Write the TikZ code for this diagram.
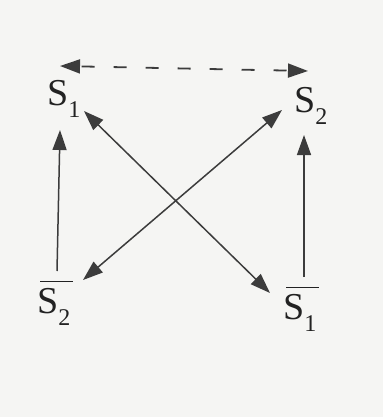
\documentclass[tikz,border=0pt]{standalone}
\usepackage{fontspec}
\setmainfont{Liberation Serif}
\usetikzlibrary{arrows.meta}
\definecolor{bg}{HTML}{F5F5F3}
\definecolor{ink}{HTML}{222222}
\definecolor{arr}{HTML}{3C3C3C}
\newcommand\mysub[1]{\raisebox{-12pt}{\fontsize{24}{24}\selectfont #1}}
\newcommand\mybar[1]{\vbox{\hrule height 1.3pt\kern 6pt\hbox{\kern-3pt#1\kern3pt}}}
\tikzset{
  lbl/.style={anchor=base west, inner sep=0pt, text=ink, font=\fontsize{38}{38}\selectfont},
  link/.style={draw=arr, line width=1.5pt, {Triangle[length=20pt,width=14pt]}-{Triangle[length=20pt,width=14pt]}},
  uplink/.style={draw=arr, line width=1.5pt, -{Triangle[length=20pt,width=14pt]}},
}
\begin{document}
\begin{tikzpicture}[x=1pt,y=-1pt]
  \fill[bg] (0,0) rectangle (383,417);
  \useasboundingbox (0,0) rectangle (383,417);
  \node[lbl] (s1) at (47,106) {S\mysub{1}};
  \node[lbl] (s2) at (294,113) {S\mysub{2}};
  \node[lbl] (s2b) at (40,313) {\mybar{S\mysub{2}}};
  \node[lbl] (s1b) at (286,319) {\mybar{S\mysub{1}}};
  % dashed top arrow
  \draw[link, line width=1.8pt, dash pattern=on 13pt off 19pt, dash phase=-2pt]
    ([shift={(13,-40)}]s1.base west) -- ([shift={(14,-42)}]s2.base west);
  % verticals
  \draw[uplink] ([shift={(17,-42)}]s2b.base west) -- ([shift={(13,24)}]s1.base west);
  \draw[uplink] ([shift={(18,-42)}]s1b.base west) -- ([shift={(10,22)}]s2.base west);
  % diagonals
  \draw[link] ([shift={(37,5)}]s1.base west) -- ([shift={(-16,-26)}]s1b.base west);
  \draw[link] ([shift={(-12,-3)}]s2.base west) -- ([shift={(43,-33)}]s2b.base west);
\end{tikzpicture}
\end{document}
